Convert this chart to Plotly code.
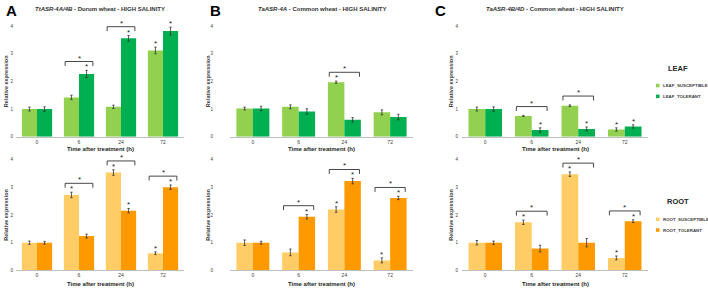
import plotly.graph_objects as go

W, H = 708, 294

# ---------------- data ----------------
times = ["0", "6", "24", "72"]
panel_letters = ["A", "B", "C"]
panel_titles = [
    "<i>TtASR-4A/4B</i> - Durum wheat - HIGH SALINITY",
    "<i>TaASR-4A</i> - Common wheat - HIGH SALINITY",
    "<i>TaASR-4B/4D</i> - Common wheat - HIGH SALINITY",
]

# LEAF
leafA_sus = [1.00, 1.42, 1.08, 3.12]
leafA_sus_err = [0.07, 0.08, 0.06, 0.12]
leafA_tol = [1.00, 2.27, 3.56, 3.82]
leafA_tol_err = [0.08, 0.13, 0.10, 0.14]
leafB_sus = [1.02, 1.08, 1.97, 0.88]
leafB_sus_err = [0.05, 0.07, 0.04, 0.09]
leafB_tol = [1.02, 0.91, 0.61, 0.71]
leafB_tol_err = [0.08, 0.10, 0.08, 0.10]
leafC_sus = [1.00, 0.75, 1.12, 0.26]
leafC_sus_err = [0.07, 0.02, 0.03, 0.06]
leafC_tol = [1.00, 0.24, 0.28, 0.37]
leafC_tol_err = [0.08, 0.08, 0.07, 0.06]

# ROOT
rootA_sus = [1.00, 2.73, 3.54, 0.62]
rootA_sus_err = [0.06, 0.10, 0.10, 0.05]
rootA_tol = [1.00, 1.24, 2.16, 3.01]
rootA_tol_err = [0.05, 0.07, 0.08, 0.08]
rootB_sus = [1.00, 0.65, 2.20, 0.36]
rootB_sus_err = [0.10, 0.12, 0.10, 0.09]
rootB_tol = [1.00, 1.94, 3.23, 2.62]
rootB_tol_err = [0.05, 0.08, 0.10, 0.06]
rootC_sus = [1.00, 1.74, 3.48, 0.45]
rootC_sus_err = [0.08, 0.08, 0.08, 0.07]
rootC_tol = [1.00, 0.79, 1.00, 1.78]
rootC_tol_err = [0.06, 0.12, 0.15, 0.05]

# significance (1 = asterisk above bar) and brackets between the two lines
leafA_sus_sig = [0, 0, 0, 1]; leafA_tol_sig = [0, 1, 1, 1]; leafA_br = [0, 1, 1, 0]
leafB_sus_sig = [0, 0, 1, 0]; leafB_tol_sig = [0, 0, 0, 0]; leafB_br = [0, 0, 1, 0]
leafC_sus_sig = [0, 0, 0, 1]; leafC_tol_sig = [0, 1, 1, 1]; leafC_br = [0, 1, 1, 0]
rootA_sus_sig = [0, 1, 1, 1]; rootA_tol_sig = [0, 0, 1, 1]; rootA_br = [0, 1, 1, 1]
rootB_sus_sig = [0, 0, 1, 1]; rootB_tol_sig = [0, 1, 1, 1]; rootB_br = [0, 1, 1, 1]
rootC_sus_sig = [0, 1, 1, 1]; rootC_tol_sig = [0, 0, 0, 1]; rootC_br = [0, 1, 1, 1]

leaf_names = ["LEAF_SUSCEPTIBLE", "LEAF_TOLERANT"]
root_names = ["ROOT_SUSCEPTIBLE", "ROOT_TOLERANT"]
leaf_colors = ["#92D050", "#00B050"]
root_colors = ["#FFCC66", "#FF9900"]

# ---------------- layout helpers ----------------
xdom = [[16 / W, 184 / W], [230 / W, 413 / W], [462 / W, 648 / W]]
ydom_top = [1 - 137 / H, 1 - 24 / H]
ydom_bot = [1 - 273 / H, 1 - 160 / H]
ytick_standoff = [2, 16, 3]
ylabel_x = [6, 208, 451]


def py(px):
    return 1 - px / H


def px_(x):
    return x / W


panels = [
    (leafA_sus, leafA_sus_err, leafA_tol, leafA_tol_err, leafA_sus_sig, leafA_tol_sig, leafA_br, 0, 0),
    (leafB_sus, leafB_sus_err, leafB_tol, leafB_tol_err, leafB_sus_sig, leafB_tol_sig, leafB_br, 1, 0),
    (leafC_sus, leafC_sus_err, leafC_tol, leafC_tol_err, leafC_sus_sig, leafC_tol_sig, leafC_br, 2, 0),
    (rootA_sus, rootA_sus_err, rootA_tol, rootA_tol_err, rootA_sus_sig, rootA_tol_sig, rootA_br, 0, 1),
    (rootB_sus, rootB_sus_err, rootB_tol, rootB_tol_err, rootB_sus_sig, rootB_tol_sig, rootB_br, 1, 1),
    (rootC_sus, rootC_sus_err, rootC_tol, rootC_tol_err, rootC_sus_sig, rootC_tol_sig, rootC_br, 2, 1),
]

BW = 0.36
FONT = "Liberation Sans"
fig = go.Figure()
shapes = []
annotations = []
layout_axes = {}

xpos = list(range(len(times)))


def ann(**kw):
    base = dict(showarrow=False, xanchor="center", yanchor="middle")
    base.update(kw)
    annotations.append(base)


for k, (sus, sus_e, tol, tol_e, s_sig, t_sig, br, col, row) in enumerate(panels):
    n = k + 1
    xa = "x" if n == 1 else f"x{n}"
    ya = "y" if n == 1 else f"y{n}"
    names = leaf_names if row == 0 else root_names
    colors = leaf_colors if row == 0 else root_colors
    for vals, errs, off, name, c in [(sus, sus_e, -BW, names[0], colors[0]),
                                     (tol, tol_e, 0.0, names[1], colors[1])]:
        fig.add_trace(go.Bar(
            x=xpos, y=vals, width=BW, offset=off, name=name,
            marker=dict(color=c, line=dict(width=0)),
            error_y=dict(type="data", array=errs, color="#333333", thickness=0.8, width=1.2),
            xaxis=xa, yaxis=ya, showlegend=False, cliponaxis=False,
        ))
    # asterisks over bars
    for i in xpos:
        for vals, errs, sig, dx in [(sus, sus_e, s_sig, -BW / 2), (tol, tol_e, t_sig, BW / 2)]:
            if sig[i]:
                ann(x=i + dx, y=vals[i] + errs[i], xref=xa, yref=ya, text="*",
                    yanchor="bottom", yshift=-3,
                    font=dict(family=FONT, size=8, color="#222222"))
        if br[i]:
            top = max(sus[i] + sus_e[i], tol[i] + tol_e[i]) + 0.32
            x0, x1 = i - BW + 0.03, i + BW - 0.03
            for (a, b, c_, d) in [(x0, top - 0.16, x0, top), (x0, top, x1, top), (x1, top, x1, top - 0.16)]:
                shapes.append(dict(type="line", xref=xa, yref=ya, x0=a, y0=b, x1=c_, y1=d,
                                   line=dict(color="#333333", width=0.9)))
            ann(x=i, y=top, xref=xa, yref=ya, text="*", yanchor="bottom", yshift=-3,
                font=dict(family=FONT, size=8, color="#222222"))

    xkey = "xaxis" if n == 1 else f"xaxis{n}"
    ykey = "yaxis" if n == 1 else f"yaxis{n}"
    layout_axes[xkey] = dict(
        domain=xdom[col], anchor=ya, range=[-0.5, 3.5], tickvals=xpos, ticktext=times,
        showline=True, linecolor="#BFBFBF", linewidth=1, ticks="", showgrid=False,
        zeroline=False, tickfont=dict(family=FONT, size=5, color="#404040"),
        ticklabelstandoff=0,
    )
    layout_axes[ykey] = dict(
        domain=ydom_top if row == 0 else ydom_bot, anchor=xa, range=[0, 4.02],
        tickvals=[0, 1, 2, 3, 4],
        showline=False, showgrid=False, zeroline=False, ticks="",
        tickfont=dict(family=FONT, size=4.5, color="#404040"),
        ticklabelstandoff=ytick_standoff[col],
    )
    # axis titles
    yc = (ydom_top if row == 0 else ydom_bot)
    ann(x=px_(ylabel_x[col]), y=(yc[0] + yc[1]) / 2, xref="paper", yref="paper",
        text="<b>Relative expression</b>", textangle=-90,
        font=dict(family=FONT, size=5.5, color="#404040"))
    ann(x=(xdom[col][0] + xdom[col][1]) / 2, y=py(150 if row == 0 else 287),
        xref="paper", yref="paper", text="<b>Time after treatment (h)</b>",
        font=dict(family=FONT, size=6, color="#262626"))

# panel letters & titles
letter_x = [11, 215, 440]
for col in range(3):
    ann(x=px_(letter_x[col]), y=py(9), xref="paper", yref="paper",
        text=f"<b>{panel_letters[col]}</b>",
        font=dict(family=FONT, size=15, color="#000000"))
    ann(x=(xdom[col][0] + xdom[col][1]) / 2, y=py(7), xref="paper", yref="paper",
        text=f"<b>{panel_titles[col]}</b>",
        font=dict(family=FONT, size=6.0, color="#333333"))

# legends
legends = [("LEAF", leaf_names, leaf_colors, 68, [85, 96]),
           ("ROOT", root_names, root_colors, 203, [221, 232])]
for title, names, colors, ty, iys in legends:
    ann(x=px_(678), y=py(ty), xref="paper", yref="paper", text=f"<b>{title}</b>",
        font=dict(family=FONT, size=7.5, color="#262626"))
    for nm, c, iy in zip(names, colors, iys):
        shapes.append(dict(type="rect", xref="paper", yref="paper",
                           x0=px_(656), x1=px_(659.5), y0=py(iy + 1.8), y1=py(iy - 1.8),
                           fillcolor=c, line=dict(width=0)))
        ann(x=px_(661), y=py(iy), xref="paper", yref="paper", text=f"<b>{nm}</b>",
            xanchor="left", font=dict(family=FONT, size=4.4, color="#404040"))

fig.update_layout(
    width=W, height=H, margin=dict(l=0, r=0, t=0, b=0),
    paper_bgcolor="white", plot_bgcolor="white",
    barmode="overlay", showlegend=False,
    shapes=shapes, annotations=annotations, **layout_axes,
)

fig.write_html("out.html", config={"displayModeBar": False},
               post_script="document.body.style.margin='0';")
